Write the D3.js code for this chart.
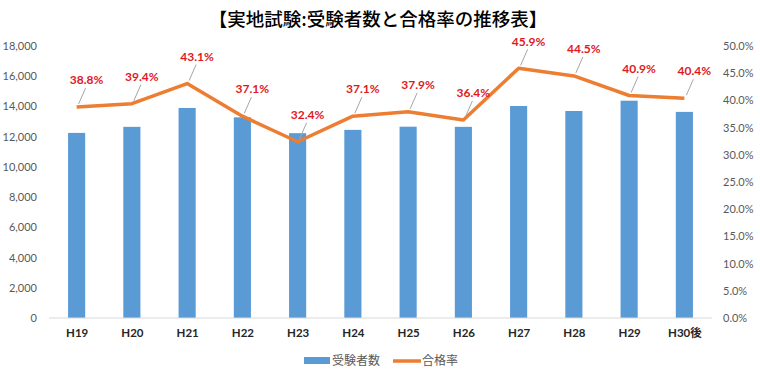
<!DOCTYPE html>
<html>
<head>
<meta charset="utf-8">
<script src="https://cdn.jsdelivr.net/npm/d3@7"></script>
<style>
  body { margin: 0; background: #fff; }
  svg { display: block; font-family: Lato, "Noto Sans CJK JP", sans-serif; }
</style>
</head>
<body>
<svg id="chart"></svg>
<script>
// data
const categories = ["H19", "H20", "H21", "H22", "H23", "H24", "H25", "H26", "H27", "H28", "H29", "H30後"];
const examinees = [12250, 12650, 13900, 13280, 12230, 12450, 12660, 12650, 14030, 13700, 14380, 13640];
const passRates = [0.388, 0.394, 0.431, 0.371, 0.324, 0.371, 0.379, 0.364, 0.459, 0.445, 0.409, 0.404];
const leftTicks = [0, 2000, 4000, 6000, 8000, 10000, 12000, 14000, 16000, 18000];
const rightTicks = [0, 0.05, 0.1, 0.15, 0.2, 0.25, 0.3, 0.35, 0.4, 0.45, 0.5];

const width = 760, height = 377;
const margin = { top: 46, right: 48, bottom: 59, left: 49 };
const innerW = width - margin.left - margin.right;
const innerH = height - margin.top - margin.bottom;

const svg = d3.select("#chart").attr("width", width).attr("height", height);

svg.append("text")
  .attr("x", 378)
  .attr("y", 26)
  .attr("text-anchor", "middle")
  .attr("font-family", "'Noto Sans CJK JP', sans-serif")
  .attr("font-weight", 500)
  .attr("font-size", 18.5)
  .attr("fill", "#000")
  .text("【実地試験:受験者数と合格率の推移表】");

const chart = svg.append("g").attr("transform", `translate(${margin.left},${margin.top})`);

const x = d3.scaleBand().domain(categories).range([0, innerW]).paddingInner(0.69).paddingOuter(0.345);
const xMid = d3.scalePoint().domain(categories).range([0, innerW]).padding(0.5);
const yLeft = d3.scaleLinear().domain([0, 18000]).range([innerH, 0]);
const yRight = d3.scaleLinear().domain([0, 0.5]).range([innerH, 0]);

// bars
chart.selectAll(".bar")
  .data(examinees)
  .join("rect")
  .attr("class", "bar")
  .attr("x", (d, i) => x(categories[i]))
  .attr("y", d => yLeft(d))
  .attr("width", x.bandwidth())
  .attr("height", d => innerH - yLeft(d))
  .attr("fill", "#5b9bd5");

// baseline
chart.append("line")
  .attr("x1", 0).attr("x2", innerW)
  .attr("y1", innerH).attr("y2", innerH)
  .attr("stroke", "#d9d9d9");

// left axis
const leftAxis = chart.append("g")
  .call(d3.axisLeft(yLeft).tickValues(leftTicks).tickFormat(d3.format(",")).tickSize(0).tickPadding(12));
leftAxis.select(".domain").remove();
leftAxis.selectAll("text").attr("font-size", 11).attr("fill", "#595959").attr("font-family", "Lato, sans-serif");

// right axis
const rightAxis = chart.append("g")
  .attr("transform", `translate(${innerW},0)`)
  .call(d3.axisRight(yRight).tickValues(rightTicks).tickFormat(d3.format(".1%")).tickSize(0).tickPadding(11));
rightAxis.select(".domain").remove();
rightAxis.selectAll("text").attr("font-size", 11).attr("fill", "#595959").attr("font-family", "Lato, sans-serif");

// x axis
const xAxis = chart.append("g")
  .attr("transform", `translate(0,${innerH})`)
  .call(d3.axisBottom(xMid).tickSize(0).tickPadding(11));
xAxis.select(".domain").remove();
xAxis.selectAll("text")
  .attr("font-size", 11.5)
  .attr("font-weight", "bold")
  .attr("fill", "#262626")
  .attr("font-family", "Lato, 'Noto Sans CJK JP', sans-serif");

// pass rate line
const line = d3.line()
  .x((d, i) => xMid(categories[i]))
  .y(d => yRight(d));

chart.append("path")
  .datum(passRates)
  .attr("d", line)
  .attr("fill", "none")
  .attr("stroke", "#ed7d31")
  .attr("stroke-width", 3.5)
  .attr("stroke-linejoin", "round");

// data labels with leader lines
const labelDx = 10, labelDy = -27;
const labels = chart.append("g");
passRates.forEach((d, i) => {
  const px = xMid(categories[i]);
  const py = yRight(d);
  labels.append("line")
    .attr("x1", px + 2).attr("y1", py - 3)
    .attr("x2", px + labelDx - 1).attr("y2", py + labelDy + 8)
    .attr("stroke", "#a6a6a6")
    .attr("stroke-width", 1);
  labels.append("text")
    .attr("x", px + labelDx)
    .attr("y", py + labelDy)
    .attr("text-anchor", "middle")
    .attr("dy", "0.35em")
    .attr("font-size", 12)
    .attr("font-weight", "bold")
    .attr("fill", "#e0191e")
    .text(d3.format(".1%")(d));
});

// legend
const legend = svg.append("g").attr("transform", "translate(304,361)");
legend.append("rect")
  .attr("x", 0).attr("y", -4)
  .attr("width", 26).attr("height", 7)
  .attr("fill", "#5b9bd5");
legend.append("text")
  .attr("x", 28).attr("y", 0).attr("dy", "0.35em")
  .attr("font-size", 12).attr("fill", "#595959")
  .attr("font-family", "'Noto Sans CJK JP', sans-serif")
  .text("受験者数");
legend.append("line")
  .attr("x1", 89).attr("x2", 117)
  .attr("y1", 0).attr("y2", 0)
  .attr("stroke", "#ed7d31").attr("stroke-width", 3.5);
legend.append("text")
  .attr("x", 118).attr("y", 0).attr("dy", "0.35em")
  .attr("font-size", 12).attr("fill", "#595959")
  .attr("font-family", "'Noto Sans CJK JP', sans-serif")
  .text("合格率");
</script>
</body>
</html>
